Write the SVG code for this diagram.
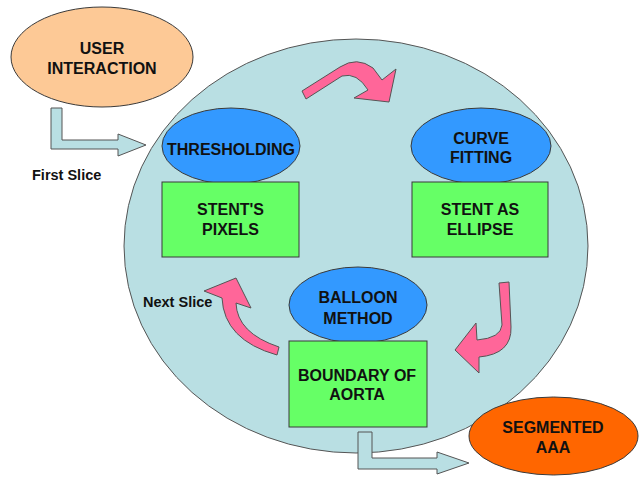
<svg xmlns="http://www.w3.org/2000/svg" width="643" height="477" viewBox="0 0 643 477">
<style>
text{font-family:"Liberation Sans",Arial,sans-serif;font-weight:bold;font-size:16px;fill:#111;text-anchor:middle}
.lbl{font-size:14.5px;text-anchor:start}
.sh{stroke:#3a3a3a;stroke-width:1}
.blue{fill:#3399ff}
.green{fill:#66ff66}
.block{fill:#b9dfe3;stroke:#555;stroke-width:1}
.pink{fill:#ff6699;stroke:#555;stroke-width:1;stroke-linejoin:round}
</style>
<rect width="643" height="477" fill="#ffffff"/>
<g id="loop"><ellipse cx="356" cy="246" rx="232" ry="207" fill="#b9dfe3" stroke="#555" stroke-width="1"/></g>
<g id="user-interaction"><ellipse class="sh" cx="102" cy="57" rx="91" ry="50" fill="#fdc996"/><text x="102" y="54">USER</text><text x="102" y="74">INTERACTION</text></g>
<g id="segmented-aaa"><ellipse class="sh" cx="553.5" cy="436" rx="84.5" ry="39" fill="#ff6600"/><text x="553" y="433">SEGMENTED</text><text x="553" y="453">AAA</text></g>
<g id="thresholding"><ellipse class="sh blue" cx="231" cy="146" rx="69" ry="38"/><text x="231" y="155">THRESHOLDING</text></g>
<g id="stents-pixels"><rect class="sh green" x="162" y="182" width="137" height="75"/><text x="230.5" y="215">STENT'S</text><text x="230.5" y="235">PIXELS</text></g>
<g id="curve-fitting"><ellipse class="sh blue" cx="481" cy="146" rx="70" ry="38"/><text x="481" y="144">CURVE</text><text x="481" y="163">FITTING</text></g>
<g id="stent-as-ellipse"><rect class="sh green" x="412" y="182" width="136" height="75"/><text x="480" y="215">STENT AS</text><text x="480" y="235">ELLIPSE</text></g>
<g id="balloon-method"><ellipse class="sh blue" cx="358" cy="305" rx="69" ry="38"/><text x="358" y="303">BALLOON</text><text x="358" y="324">METHOD</text></g>
<g id="boundary-of-aorta"><rect class="sh green" x="289" y="341" width="138" height="86"/><text x="357" y="381">BOUNDARY OF</text><text x="357" y="400">AORTA</text></g>
<g id="connectors">
<path class="block" d="M51,108 H62 V140 H118 V134 L146,145 L118,156 V149 H51 Z"/>
<path class="block" d="M358,432 H372 V458 H437 V452 L469,463 L437,474 V469 H358 Z"/>
<path class="pink" d="M302,91 L340,67 Q357,56 373,68 L382,80 L396,69 L389,102 L354,98 L368,90 Q357,72 342,76 L306,99 Z"/>
<path class="pink" d="M499,283 L509,282 L511,327 Q512,354 479,357 L479,373 L455,350 L476,323 L477,340 Q501,338 502,325 Z"/>
<path class="pink" d="M279,347 L277,355 Q224,340 222,298 L204,291 L236,278 L251,308 L236,303 Q237,333 279,347 Z"/>
</g>
<g id="labels"><text class="lbl" x="32" y="180">First Slice</text><text class="lbl" x="143" y="307">Next Slice</text></g>
</svg>
